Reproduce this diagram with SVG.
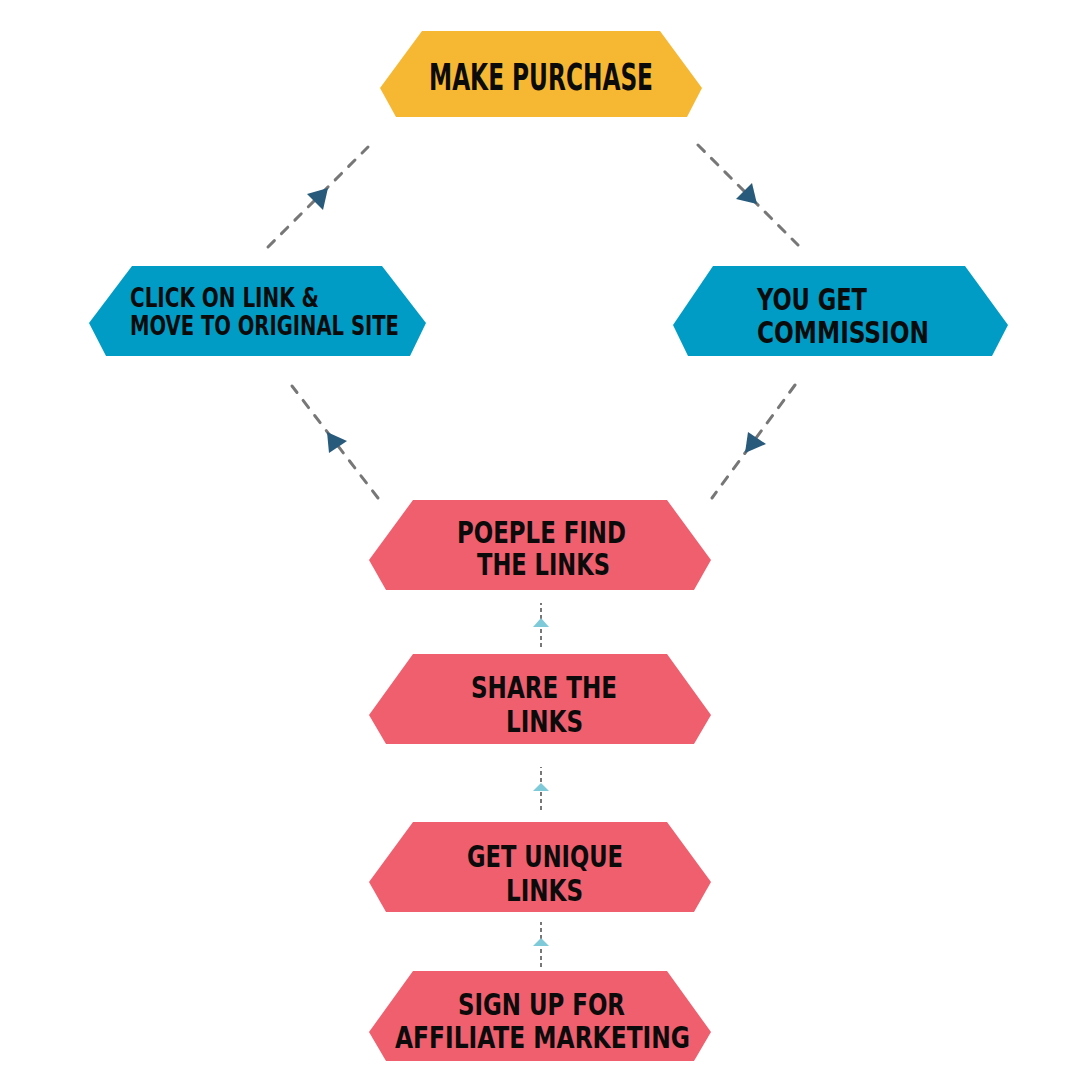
<svg xmlns="http://www.w3.org/2000/svg" width="1080" height="1080" viewBox="0 0 1080 1080">
<style>
.t{font-family:"Liberation Sans Narrow","DejaVu Sans Condensed","Liberation Sans",sans-serif;font-weight:bold;fill:#0b0b0b}
.yel{fill:#F6B733}
.blu{fill:#009CC5}
.pnk{fill:#EF5F6E}
.dd{stroke:#777;stroke-width:3;stroke-dasharray:9 10;stroke-linecap:round;fill:none}
.dv{stroke:#777;stroke-width:2;stroke-dasharray:4 3;fill:none}
.ah{fill:#285A7B}
.av{fill:#7FCAD8}
</style>
<rect width="1080" height="1080" fill="#fff"/>
<g id="connectors">
<line class="dd" x1="268" y1="247" x2="368" y2="147"/>
<line class="dd" x1="698" y1="145" x2="798" y2="245"/>
<line class="dd" x1="378" y1="498" x2="292" y2="386"/>
<line class="dd" x1="795" y1="385" x2="712" y2="498"/>
<polygon class="ah" points="328,188 307,194 323,210"/>
<polygon class="ah" points="757,204 752,183 736,199"/>
<polygon class="ah" points="327,432 347,441 329,453"/>
<polygon class="ah" points="745,453 748,432 766,444"/>
<line class="dv" x1="541" y1="647" x2="541" y2="603"/>
<line class="dv" x1="541" y1="810" x2="541" y2="767"/>
<line class="dv" x1="541" y1="967" x2="541" y2="922"/>
<polygon class="av" points="541,618 533,627 549,627"/>
<polygon class="av" points="541,783 533,791 549,791"/>
<polygon class="av" points="541,938 533,946 549,946"/>
</g>
<g id="make-purchase">
<polygon class="yel" points="422,31 660,31 702,88 687,117 396,117 380,88"/>
<text class="t" x="429" y="90" font-size="38" textLength="224" lengthAdjust="spacingAndGlyphs">MAKE PURCHASE</text>
</g>
<g id="click-on-link">
<polygon class="blu" points="132,266 382,266 426,323 410,356 106,356 89,323"/>
<text class="t" x="130" y="307" font-size="26" textLength="189" lengthAdjust="spacingAndGlyphs">CLICK ON LINK &amp;</text>
<text class="t" x="130" y="335" font-size="26" textLength="269" lengthAdjust="spacingAndGlyphs">MOVE TO ORIGINAL SITE</text>
</g>
<g id="you-get-commission">
<polygon class="blu" points="713,266 965,266 1008,325 992,356 688,356 673,325"/>
<text class="t" x="757" y="310" font-size="31" textLength="110" lengthAdjust="spacingAndGlyphs">YOU GET</text>
<text class="t" x="757" y="343" font-size="31" textLength="172" lengthAdjust="spacingAndGlyphs">COMMISSION</text>
</g>
<g id="people-find-links">
<polygon class="pnk" points="413,500 667,500 711,560 694,590 386,590 369,560"/>
<text class="t" x="457" y="543" font-size="30" textLength="169" lengthAdjust="spacingAndGlyphs">POEPLE FIND</text>
<text class="t" x="477" y="575" font-size="30" textLength="133" lengthAdjust="spacingAndGlyphs">THE LINKS</text>
</g>
<g id="share-links">
<polygon class="pnk" points="413,654 667,654 711,715 694,744 386,744 369,715"/>
<text class="t" x="471" y="698" font-size="31" textLength="146" lengthAdjust="spacingAndGlyphs">SHARE THE</text>
<text class="t" x="506" y="732" font-size="31" textLength="77" lengthAdjust="spacingAndGlyphs">LINKS</text>
</g>
<g id="get-unique-links">
<polygon class="pnk" points="413,822 667,822 711,882 694,912 386,912 369,882"/>
<text class="t" x="467" y="867" font-size="31" textLength="156" lengthAdjust="spacingAndGlyphs">GET UNIQUE</text>
<text class="t" x="506" y="901" font-size="31" textLength="77" lengthAdjust="spacingAndGlyphs">LINKS</text>
</g>
<g id="sign-up">
<polygon class="pnk" points="413,971 667,971 711,1032 694,1061 386,1061 369,1032"/>
<text class="t" x="458" y="1015" font-size="30" textLength="167" lengthAdjust="spacingAndGlyphs">SIGN UP FOR</text>
<text class="t" x="395" y="1048" font-size="30" textLength="295" lengthAdjust="spacingAndGlyphs">AFFILIATE MARKETING</text>
</g>
</svg>
